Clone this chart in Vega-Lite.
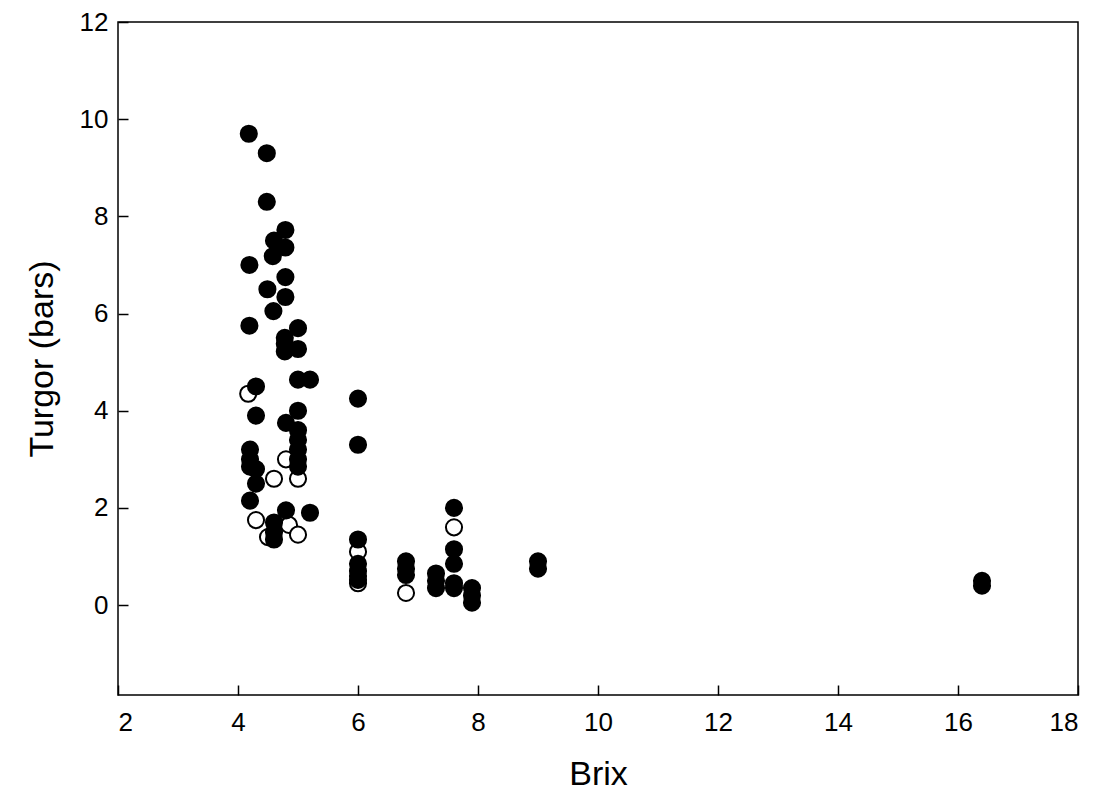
{
  "$schema": "https://vega.github.io/schema/vega-lite/v6.json",
  "width": 960,
  "height": 673,
  "autosize": {"type": "none"},
  "padding": {"left": 118, "top": 22, "right": 26, "bottom": 114},
  "background": "white",
  "config": {
    "view": {"stroke": "black", "strokeWidth": 1.5}
  },
  "data": {
    "values": [
      {"brix": 4.17, "turgor": 4.35, "type": "open"},
      {"brix": 4.3, "turgor": 1.75, "type": "open"},
      {"brix": 4.5, "turgor": 1.4, "type": "open"},
      {"brix": 4.6, "turgor": 2.6, "type": "open"},
      {"brix": 4.8, "turgor": 3.0, "type": "open"},
      {"brix": 4.85, "turgor": 1.65, "type": "open"},
      {"brix": 5.0, "turgor": 2.6, "type": "open"},
      {"brix": 5.0, "turgor": 1.45, "type": "open"},
      {"brix": 6.0, "turgor": 1.1, "type": "open"},
      {"brix": 6.0, "turgor": 0.45, "type": "open"},
      {"brix": 6.8, "turgor": 0.25, "type": "open"},
      {"brix": 7.6, "turgor": 1.6, "type": "open"},
      {"brix": 4.18, "turgor": 9.7, "type": "filled"},
      {"brix": 4.19, "turgor": 7.0, "type": "filled"},
      {"brix": 4.19, "turgor": 5.75, "type": "filled"},
      {"brix": 4.3, "turgor": 4.5, "type": "filled"},
      {"brix": 4.3, "turgor": 3.9, "type": "filled"},
      {"brix": 4.2, "turgor": 3.2, "type": "filled"},
      {"brix": 4.2, "turgor": 3.0, "type": "filled"},
      {"brix": 4.2, "turgor": 2.85, "type": "filled"},
      {"brix": 4.3, "turgor": 2.8, "type": "filled"},
      {"brix": 4.3, "turgor": 2.5, "type": "filled"},
      {"brix": 4.2, "turgor": 2.15, "type": "filled"},
      {"brix": 4.48, "turgor": 9.3, "type": "filled"},
      {"brix": 4.48, "turgor": 8.3, "type": "filled"},
      {"brix": 4.49, "turgor": 6.5, "type": "filled"},
      {"brix": 4.6, "turgor": 7.5, "type": "filled"},
      {"brix": 4.58, "turgor": 7.18, "type": "filled"},
      {"brix": 4.59, "turgor": 6.05, "type": "filled"},
      {"brix": 4.6, "turgor": 1.7, "type": "filled"},
      {"brix": 4.6, "turgor": 1.5, "type": "filled"},
      {"brix": 4.6, "turgor": 1.35, "type": "filled"},
      {"brix": 4.79, "turgor": 7.72, "type": "filled"},
      {"brix": 4.79, "turgor": 7.36, "type": "filled"},
      {"brix": 4.79, "turgor": 6.75, "type": "filled"},
      {"brix": 4.79, "turgor": 6.34, "type": "filled"},
      {"brix": 4.78, "turgor": 5.5, "type": "filled"},
      {"brix": 4.78, "turgor": 5.38, "type": "filled"},
      {"brix": 4.78, "turgor": 5.22, "type": "filled"},
      {"brix": 4.8, "turgor": 3.75, "type": "filled"},
      {"brix": 4.8, "turgor": 1.95, "type": "filled"},
      {"brix": 5.0, "turgor": 5.7, "type": "filled"},
      {"brix": 5.0, "turgor": 5.27, "type": "filled"},
      {"brix": 5.0, "turgor": 4.64, "type": "filled"},
      {"brix": 5.2, "turgor": 4.64, "type": "filled"},
      {"brix": 5.0, "turgor": 4.0, "type": "filled"},
      {"brix": 5.0, "turgor": 3.6, "type": "filled"},
      {"brix": 5.0, "turgor": 3.4, "type": "filled"},
      {"brix": 5.0, "turgor": 3.2, "type": "filled"},
      {"brix": 5.0, "turgor": 3.0, "type": "filled"},
      {"brix": 5.0, "turgor": 2.85, "type": "filled"},
      {"brix": 5.2, "turgor": 1.9, "type": "filled"},
      {"brix": 6.0, "turgor": 4.25, "type": "filled"},
      {"brix": 6.0, "turgor": 3.3, "type": "filled"},
      {"brix": 6.0, "turgor": 1.35, "type": "filled"},
      {"brix": 6.0, "turgor": 0.85, "type": "filled"},
      {"brix": 6.0, "turgor": 0.7, "type": "filled"},
      {"brix": 6.0, "turgor": 0.6, "type": "filled"},
      {"brix": 6.0, "turgor": 0.52, "type": "filled"},
      {"brix": 6.8, "turgor": 0.9, "type": "filled"},
      {"brix": 6.8, "turgor": 0.75, "type": "filled"},
      {"brix": 6.8, "turgor": 0.62, "type": "filled"},
      {"brix": 7.3, "turgor": 0.65, "type": "filled"},
      {"brix": 7.3, "turgor": 0.5, "type": "filled"},
      {"brix": 7.3, "turgor": 0.35, "type": "filled"},
      {"brix": 7.6, "turgor": 2.0, "type": "filled"},
      {"brix": 7.6, "turgor": 1.15, "type": "filled"},
      {"brix": 7.6, "turgor": 0.85, "type": "filled"},
      {"brix": 7.6, "turgor": 0.45, "type": "filled"},
      {"brix": 7.6, "turgor": 0.35, "type": "filled"},
      {"brix": 7.9, "turgor": 0.35, "type": "filled"},
      {"brix": 7.9, "turgor": 0.2, "type": "filled"},
      {"brix": 7.9, "turgor": 0.05, "type": "filled"},
      {"brix": 9.0, "turgor": 0.9, "type": "filled"},
      {"brix": 9.0, "turgor": 0.75, "type": "filled"},
      {"brix": 16.4, "turgor": 0.5, "type": "filled"},
      {"brix": 16.4, "turgor": 0.4, "type": "filled"}
    ]
  },
  "mark": {"type": "point", "shape": "circle", "filled": false, "size": 260, "stroke": "black", "strokeWidth": 2, "opacity": 1},
  "encoding": {
    "x": {"field": "brix", "type": "quantitative", "title": "Brix",
      "scale": {"domain": [2, 18], "nice": false, "zero": false},
      "axis": {"values": [2, 4, 6, 8, 10, 12, 14, 16, 18], "format": "d", "grid": false, "domain": false, "offset": -10, "zindex": 1,
        "ticks": true, "tickColor": "black", "tickWidth": 1.5, "tickSize": 10,
        "labelFont": "Liberation Sans", "labelFontSize": 26, "labelColor": "black", "labelPadding": 14,
        "titleFont": "Liberation Sans", "titleFontSize": 34, "titleFontWeight": "normal", "titleColor": "black", "titlePadding": 22}},
    "y": {"field": "turgor", "type": "quantitative", "title": "Turgor (bars)",
      "scale": {"domain": [-1.85, 12], "nice": false, "zero": false},
      "axis": {"values": [0, 2, 4, 6, 8, 10, 12], "format": "d", "grid": false, "domain": false, "offset": -10, "zindex": 1,
        "ticks": true, "tickColor": "black", "tickWidth": 1.5, "tickSize": 10,
        "labelFont": "Liberation Sans", "labelFontSize": 26, "labelColor": "black", "labelPadding": 10,
        "titleFont": "Liberation Sans", "titleFontSize": 34, "titleFontWeight": "normal", "titleColor": "black", "titlePadding": 20}},
    "fill": {"field": "type", "type": "nominal", "scale": {"domain": ["filled", "open"], "range": ["black", "white"]}, "legend": null}
  }
}
